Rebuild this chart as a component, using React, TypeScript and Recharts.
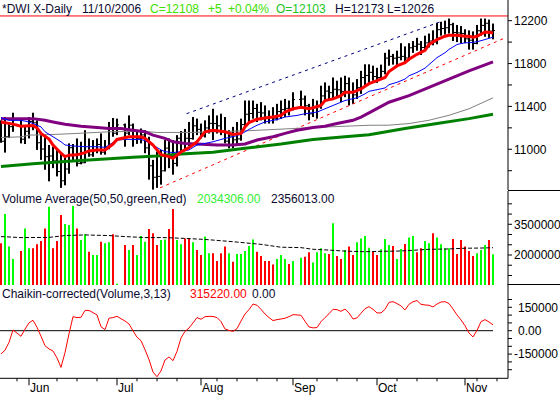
import React from "react";
import { ComposedChart, Bar, Line, XAxis, YAxis, ReferenceLine, Cell } from "recharts";

// bars sit on weekday slots; market holidays keep an empty slot
const firstDay = "2006-05-23";
const lastDay = "2006-11-10";
const axisEndDay = "2006-11-15";
const holidays = ["2006-05-29", "2006-07-04", "2006-09-04"];
const monthNames = ["Jan", "Feb", "Mar", "Apr", "May", "Jun", "Jul", "Aug", "Sep", "Oct", "Nov", "Dec"];

// one value per trading day
const opens = [
  11094, 11075, 11117, 11211,
  11275, 11094, 11168, 11260, 11247, 11061, 11002, 10931, 10938, 10891,
  10792, 10706, 10816, 11015, 10942, 10869, 10874, 10979, 10948, 10989,
  11045, 10973, 11002, 11190, 11150,
  11228, 11151, 11225, 11091, 11103, 11134, 11013, 10846, 10739,
  10747, 10799, 11011, 10928, 10868, 11103, 11157, 11103, 11100, 11219,
  11186, 11125, 11199, 11242, 11240, 11219, 11173, 11076, 11124, 11088,
  11097, 11230, 11327, 11334, 11381, 11345, 11339, 11297, 11302, 11284,
  11352, 11370, 11382, 11381,
  11464, 11469, 11406, 11331, 11392,
  11397, 11498, 11543, 11528, 11560, 11555, 11540, 11613, 11533, 11508,
  11575, 11669, 11689, 11718, 11679, 11670, 11727, 11851, 11867, 11850,
  11858, 11867, 11852, 11947, 11961, 11981, 11950, 11993, 12011, 12002,
  12116, 12127, 12134, 12163, 12090, 12086, 12081, 12031, 12018, 11987,
  12106, 12156, 12176, 12103,
];
const highs = [
  11270, 11301, 11250, 11341,
  11280, 11209, 11301, 11341, 11270, 11132, 11117, 11040, 11024, 10994,
  10963, 10932, 11055, 11049, 11101, 11070, 11178, 11101, 11086, 11101,
  11148, 11086, 11255, 11292, 11286,
  11240, 11316, 11240, 11178, 11194, 11178, 11117, 10901, 10978,
  10994, 11086, 11101, 11086, 11132, 11170, 11190, 11255, 11301, 11286,
  11240, 11270, 11316, 11378, 11316, 11332, 11301, 11178, 11209, 11255,
  11286, 11455, 11455, 11455, 11424, 11440, 11409, 11363, 11393, 11424,
  11455, 11470, 11455, 11532,
  11547, 11501, 11424, 11470, 11455,
  11593, 11624, 11593, 11670, 11640, 11670, 11686, 11670, 11624, 11655,
  11732, 11793, 11793, 11780, 11760, 11790, 11900, 11930, 11890, 11920,
  11990, 11960, 11990, 12010, 12040, 12010, 12060, 12080, 12110, 12180,
  12190, 12200, 12220, 12180, 12160, 12150, 12120, 12110, 12100, 12160,
  12220, 12220, 12210, 12173,
];
const lows = [
  11061, 10969, 11105, 11163,
  11055, 11049, 11101, 11178, 10994, 10901, 10809, 10701, 10824, 10747,
  10640, 10664, 10772, 10886, 10840, 10860, 10870, 10930, 10930, 10963,
  10950, 10950, 11000, 11117, 11132,
  11024, 11132, 11024, 11050, 11055, 10963, 10717, 10624, 10640,
  10670, 10793, 10824, 10763, 10840, 10950, 10990, 11030, 11090, 11132,
  11101, 11110, 11147, 11086, 11147, 11132, 11055, 11009, 11009, 11050,
  11080, 11209, 11240, 11286, 11255, 11270, 11240, 11240, 11240, 11270,
  11286, 11301, 11316, 11363,
  11378, 11316, 11270, 11301, 11286,
  11378, 11455, 11455, 11470, 11486, 11440, 11486, 11409, 11424, 11470,
  11517, 11593, 11609, 11640, 11620, 11650, 11700, 11780, 11790, 11780,
  11830, 11810, 11850, 11900, 11920, 11880, 11920, 11950, 11970, 11980,
  12060, 12070, 12080, 12010, 12000, 11990, 11990, 11930, 11930, 11980,
  12060, 12050, 12040, 12026,
];
const closes = [
  11075, 11117, 11211, 11278,
  11094, 11168, 11260, 11247, 11061, 11002, 10931, 10938, 10891, 10792,
  10706, 10816, 11015, 10942, 10869, 10874, 10979, 10948, 10989, 11045,
  10973, 11002, 11190, 11150, 11228,
  11151, 11225, 11091, 11103, 11134, 11013, 10846, 10739, 10747,
  10799, 11011, 10928, 10868, 11103, 11157, 11103, 11100, 11219, 11186,
  11125, 11199, 11242, 11240, 11219, 11173, 11076, 11124, 11088, 11097,
  11230, 11327, 11334, 11381, 11345, 11339, 11297, 11302, 11284, 11352,
  11370, 11382, 11381, 11464,
  11469, 11406, 11331, 11392, 11397,
  11498, 11543, 11528, 11560, 11555, 11540, 11613, 11533, 11508, 11575,
  11669, 11689, 11718, 11679, 11670, 11727, 11851, 11867, 11850, 11858,
  11867, 11852, 11947, 11961, 11981, 11950, 11993, 12011, 12002, 12116,
  12127, 12134, 12163, 12090, 12086, 12081, 12031, 12018, 11987, 12106,
  12156, 12176, 12103, 12108,
];
const volumes = [
  2570000, 4000000, 2410000, 1800000,
  2190000, 3300000, 2330000, 2330000, 2520000, 2680000, 3300000, 4360000, 2330000, 2680000,
  3950000, 3510000, 3470000, 4390000, 3300000, 2730000, 3010000, 2160000, 2000000, 2000000,
  2650000, 2570000, 2620000, 3010000, 600000,
  2490000, 2240000, 2490000, 2000000, 2930000, 2650000, 3270000, 3060000, 2490000,
  2730000, 2760000, 3270000, 4250000, 2730000, 2520000, 2810000, 2810000, 2620000, 2240000,
  2000000, 2900000, 2080000, 2080000, 1710000, 2080000, 2410000, 2080000, 1670000, 2050000,
  2050000, 2190000, 2440000, 2760000, 2160000, 1950000, 1710000, 1710000, 1540000, 1800000,
  2000000, 1800000, 1560000, 1710000,
  1870000, 1920000, 2130000, 1630000, 2130000,
  2330000, 2080000, 2050000, 3550000, 1950000, 1800000, 2240000, 2410000, 2000000, 2620000,
  2810000, 2930000, 2360000, 2160000, 2000000, 2280000, 2780000, 2490000, 2440000, 1800000,
  2290000, 2540000, 2860000, 2930000, 2130000, 2330000, 2680000, 2570000, 3060000, 2860000,
  2520000, 2330000, 2330000, 2780000, 2050000, 2730000, 2410000, 2190000, 1950000, 2080000,
  2240000, 2490000, 2730000, 2034306,
];
// 1 = green volume bar, 0 = red
const volumeUp = [
  0, 1, 1, 1,
  0, 1, 1, 0, 0, 0, 0, 1, 0, 0,
  0, 1, 1, 1, 0, 1, 1, 0, 1, 1,
  0, 1, 1, 0, 1,
  0, 1, 0, 1, 1, 1, 0, 0, 0,
  1, 1, 0, 0, 1, 1, 0, 0, 1, 0,
  0, 1, 1, 0, 0, 0, 0, 1, 0, 1,
  1, 1, 1, 1, 0, 0, 0, 0, 0, 1,
  1, 1, 0, 1,
  1, 0, 0, 1, 1,
  1, 1, 0, 1, 0, 0, 1, 0, 0, 1,
  1, 1, 1, 0, 0, 1, 1, 1, 0, 1,
  1, 0, 1, 1, 0, 0, 1, 1, 0, 1,
  1, 1, 1, 0, 0, 0, 0, 0, 0, 1,
  1, 1, 0, 1,
];
const chaikin = [
  -149000, -125000, -75000, 5000,
  -36000, 10000, 50000, 67000, 22000, -36000, -96000, -117000, -130000, -175000,
  -235000, -140000, -20000, 90000, 84000, 86000, 130000, 130000, 116000, 101000,
  25000, 7000, 80000, 84000, 92000,
  62000, 43000, 0, -42000, -64000, -122000, -185000, -265000, -295000,
  -258000, -188000, -168000, -192000, -132000, -47000, -4000, 17000, 50000, 84000,
  73000, 90000, 92000, 91000, 84000, 58000, 11000, 2000, -4000, 13000,
  62000, 107000, 135000, 171000, 163000, 137000, 107000, 84000, 65000, 71000,
  75000, 80000, 90000, 103000,
  99000, 60000, 24000, 18000, 20000,
  58000, 84000, 109000, 137000, 135000, 124000, 139000, 114000, 75000, 82000,
  112000, 141000, 154000, 137000, 114000, 114000, 137000, 182000, 186000, 174000,
  159000, 133000, 169000, 186000, 193000, 169000, 165000, 163000, 152000, 171000,
  184000, 186000, 174000, 139000, 101000, 69000, 32000, -15000, -40000, 2000,
  58000, 71000, 56000, 37000,
];

// moving averages as [weekday slot, value]
const ma10 = [
  [0, 11255], [3, 11235], [5, 11215], [8, 11222], [9, 11200], [10, 11148], [12, 11095], [13, 11040],
  [15, 10963], [16, 10932], [17, 10945], [19, 10948], [21, 10969], [22, 10985], [24, 10994], [26, 10994],
  [28, 11049], [29, 11092], [32, 11117], [35, 11117], [36, 11102], [38, 11040], [40, 10950], [42, 10932],
  [43, 10917], [45, 10975], [47, 11015], [49, 11070], [51, 11163], [53, 11178], [55, 11168], [56, 11163],
  [58, 11138], [60, 11148], [61, 11209], [62, 11250], [64, 11280], [66, 11292], [68, 11301], [70, 11316],
  [71, 11347], [73, 11378], [75, 11393], [77, 11378], [78, 11387], [80, 11409], [81, 11455], [83, 11470],
  [85, 11501], [86, 11532], [88, 11532], [90, 11563], [92, 11612], [94, 11640], [96, 11670], [97, 11726],
  [99, 11778], [101, 11809], [102, 11840], [104, 11886], [106, 11923], [107, 11978], [109, 12024],
  [111, 12055], [112, 12064], [114, 12064], [116, 12055], [117, 12055], [118, 12045], [119, 12055],
  [121, 12095], [122, 12092], [123, 12086],
];
const ma20 = [
  [0, 11295], [2, 11270], [5, 11270], [7, 11255], [8, 11240], [10, 11209], [11, 11163], [13, 11117],
  [15, 11070], [16, 11040], [18, 11031], [21, 11024], [24, 11024], [26, 11018], [27, 11040], [29, 11086],
  [31, 11092], [35, 11092], [36, 11080], [38, 11040], [40, 10994], [41, 10978], [43, 10969], [45, 10978],
  [47, 10994], [49, 11040], [53, 11070], [56, 11102], [58, 11117], [60, 11140], [62, 11185], [64, 11224],
  [66, 11255], [69, 11277], [71, 11301], [74, 11316], [76, 11332], [79, 11347], [81, 11378], [84, 11424],
  [86, 11455], [89, 11480], [91, 11517], [92, 11541], [94, 11556], [96, 11572], [97, 11603], [99, 11625],
  [101, 11655], [102, 11686], [104, 11717], [106, 11757], [107, 11790], [109, 11855], [111, 11901],
  [112, 11932], [114, 11978], [116, 11994], [117, 11994], [119, 12003], [121, 12024], [123, 12046],
];
const ma50 = [
  [0, 11286], [8, 11286], [11, 11270], [13, 11255], [16, 11233], [20, 11215], [24, 11203], [27, 11194],
  [30, 11194], [33, 11178], [36, 11163], [38, 11132], [41, 11102], [43, 11070], [46, 11055], [49, 11049],
  [54, 11040], [58, 11040], [61, 11049], [64, 11086], [68, 11117], [71, 11148], [74, 11178], [78, 11203],
  [81, 11215], [84, 11240], [88, 11270], [90, 11301], [92, 11340], [97, 11439], [102, 11501],
  [107, 11578], [112, 11655], [117, 11732], [123, 11815],
];
const ma100 = [
  [0, 11110], [5, 11116], [7, 11132], [13, 11138], [19, 11148], [27, 11163], [35, 11169], [39, 11157],
  [47, 11157], [53, 11163], [61, 11172], [70, 11188], [78, 11203], [86, 11215], [92, 11224], [97, 11225],
  [102, 11240], [107, 11271], [112, 11317], [117, 11378], [123, 11480],
];
const ma200 = [
  [0, 10840], [8, 10864], [16, 10886], [25, 10907], [33, 10926], [39, 10938], [45, 10957], [53, 10972],
  [61, 11009], [70, 11049], [78, 11092], [86, 11117], [92, 11135], [101, 11194], [109, 11240],
  [117, 11286], [123, 11326],
];
const volumeAverage = [
  [0, 2900000], [5, 2850000], [12, 2860000], [16, 2950000], [21, 2980000], [27, 2950000], [31, 2900000],
  [36, 2850000], [41, 2850000], [46, 2810000], [51, 2760000], [58, 2650000], [65, 2520000], [70, 2380000],
  [75, 2360000], [78, 2280000], [82, 2240000], [86, 2190000], [91, 2160000], [95, 2180000], [99, 2190000],
  [103, 2230000], [107, 2280000], [111, 2290000], [116, 2330000], [120, 2340000], [123, 2356013],
];

// hand-drawn channel lines, [slot, price]
const upperChannel = [[46.4, 11332], [110.6, 12200]];
const lowerChannel = [[39.75, 10640], [126.4, 12046]];

const priceTicks = [10800, 11000, 11200, 11400, 11600, 11800, 12000, 12200];
const priceLabels = [11000, 11400, 11800, 12200];
const volumeTicks = [1000000, 1500000, 2000000, 2500000, 3000000, 3500000, 4000000, 4500000];
const volumeLabels = [2000000, 3500000];
const chaikinTicks = [-250000, -200000, -150000, -100000, -50000, 0, 50000, 100000, 150000, 200000];
const chaikinLabels = [-150000, 0, 150000];

const FONT = "'Liberation Sans', Arial, Helvetica, sans-serif";
const INK = "#000";
const W = 560;
const AXIS_W = 52;

const DAY = 86400000;
const toTime = (s: string) => Date.parse(s + "T00:00:00Z");
const isoOf = (t: number) => new Date(t).toISOString().slice(0, 10);

const slotTimes: number[] = [];
for (let t = toTime(firstDay); t <= toTime(axisEndDay); t += DAY) {
  const wd = new Date(t).getUTCDay();
  if (wd !== 0 && wd !== 6) slotTimes.push(t);
}
const tradingSlots = slotTimes
  .map((t, slot) => ({ t, slot }))
  .filter((d) => d.t <= toTime(lastDay) && !holidays.includes(isoOf(d.t)))
  .map((d) => d.slot);
const lastSlot = tradingSlots[tradingSlots.length - 1];
const xDomain = [-0.25, slotTimes.length - 0.25];

const rows = tradingSlots.map((slot, i) => ({
  slot,
  o: opens[i],
  h: highs[i],
  l: lows[i],
  c: closes[i],
  range: [lows[i], highs[i]],
  vol: volumes[i],
  up: volumeUp[i] === 1,
  cmf: chaikin[i],
}));

const toPoints = (pairs: number[][]) => pairs.map(([slot, v]) => ({ slot, v }));

const monthTicks: number[] = [];
slotTimes.forEach((t, s) => {
  if (s > 0 && new Date(t).getUTCMonth() !== new Date(slotTimes[s - 1]).getUTCMonth()) monthTicks.push(s);
});
const weekTicks = slotTimes
  .map((t, s) => ({ t, s }))
  .filter((d) => new Date(d.t).getUTCDay() === 1 && monthTicks.every((m) => Math.abs(m - d.s) > 2))
  .map((d) => d.s);
const xTicks = [...monthTicks, ...weekTicks].sort((a, b) => a - b);

function OhlcBar(props: any) {
  const { x, y, width, height, payload } = props;
  if (!payload || x == null || y == null) return null;
  const top = Math.min(y, y + height);
  const h = Math.max(Math.abs(height), 1);
  const cx = x + width / 2;
  const span = payload.h - payload.l || 1;
  const at = (v: number) => top + ((payload.h - v) / span) * h;
  return (
    <g>
      <rect x={cx - 1} y={top} width={2} height={h} fill={INK} />
      <rect x={cx - 2} y={at(payload.o) - 0.5} width={1} height={1} fill={INK} />
      <rect x={cx + 1} y={at(payload.c) - 0.5} width={1} height={1} fill={INK} />
    </g>
  );
}

function valueTick(labels: number[], format: (v: number) => string, shiftPositive = 0) {
  return (props: any) => {
    const { x, y, payload } = props;
    const v = payload.value;
    if (!labels.includes(v)) return <g />;
    return (
      <text x={x + (v >= 0 ? shiftPositive : 0)} y={y} dy="0.36em" fontSize={12} fontFamily={FONT} fill={INK}>
        {format(v)}
      </text>
    );
  };
}

function DateTick(props: any) {
  const { x, y, payload } = props;
  const s = payload.value;
  const isMonth = monthTicks.includes(s);
  return (
    <g>
      <line x1={x} x2={x} y1={y} y2={y + (isMonth ? 7 : 3)} stroke={INK} />
      {isMonth && (
        <text x={x + 1} y={y + 13.5} fontSize={12} fontFamily={FONT} fill={INK}>
          {monthNames[new Date(slotTimes[s]).getUTCMonth()]}
        </text>
      )}
    </g>
  );
}

const yAxisProps = {
  orientation: "right" as const,
  width: AXIS_W,
  type: "number" as const,
  allowDataOverflow: true,
  interval: 0,
  tickSize: 4,
  tickMargin: 2,
  axisLine: { stroke: INK },
  tickLine: { stroke: INK },
};

const maLines = [
  { key: "ma200", points: ma200, color: "#008000", width: 3 },
  { key: "ma100", points: ma100, color: "#808080", width: 1 },
  { key: "ma50", points: ma50, color: "#800080", width: 3 },
  { key: "ma20", points: ma20, color: "#0000ff", width: 1 },
  { key: "ma10", points: ma10, color: "#ff0000", width: 3 },
];

const seg = (pairs: number[][]) => pairs.map(([x, y]) => ({ x, y }));

export default function App() {
  const margin = { top: 0, right: 0, bottom: 0, left: 0 };
  return (
    <div style={{ position: "absolute", left: 0, top: 0, width: W, height: 397, background: "#fff", overflow: "hidden" }}>
      <div style={{ position: "absolute", left: 0, top: 0 }}>
        <ComposedChart width={W} height={190} data={rows} margin={margin}>
          <XAxis type="number" dataKey="slot" domain={xDomain} allowDataOverflow hide />
          <YAxis {...yAxisProps} domain={[10620, 12393]} ticks={priceTicks} tick={valueTick(priceLabels, String)} />
          <ReferenceLine y={12244} stroke="#ff0000" ifOverflow="visible" />
          <ReferenceLine segment={seg(upperChannel)} stroke="#000080" strokeDasharray="3 4" ifOverflow="visible" />
          <ReferenceLine segment={seg(lowerChannel)} stroke="#ff0000" strokeDasharray="3 4" ifOverflow="visible" />
          <Bar dataKey="range" barSize={2} shape={(p: any) => <OhlcBar {...p} />} isAnimationActive={false} />
          {maLines.map((m) => (
            <Line
              key={m.key}
              data={toPoints(m.points)}
              dataKey="v"
              type="linear"
              stroke={m.color}
              strokeWidth={m.width}
              dot={false}
              activeDot={false}
              isAnimationActive={false}
            />
          ))}
        </ComposedChart>
      </div>

      <div style={{ position: "absolute", left: 0, top: 191 }}>
        <ComposedChart width={W} height={94} data={rows} margin={margin}>
          <XAxis type="number" dataKey="slot" domain={xDomain} allowDataOverflow hide />
          <YAxis {...yAxisProps} domain={[534400, 5126600]} ticks={volumeTicks} tick={valueTick(volumeLabels, String)} />
          <Bar dataKey="vol" barSize={2} isAnimationActive={false}>
            {rows.map((r) => (
              <Cell key={r.slot} fill={r.up ? "#00ff00" : "#ff0000"} />
            ))}
          </Bar>
          <Line
            data={toPoints(volumeAverage)}
            dataKey="v"
            type="linear"
            stroke={INK}
            strokeWidth={1}
            strokeDasharray="4 2"
            dot={false}
            activeDot={false}
            isAnimationActive={false}
          />
        </ComposedChart>
      </div>

      <div style={{ position: "absolute", left: 0, top: 284 }}>
        <ComposedChart width={W} height={113} data={rows} margin={margin}>
          <XAxis
            type="number"
            dataKey="slot"
            domain={xDomain}
            allowDataOverflow
            ticks={xTicks}
            interval={0}
            height={18.7}
            tickSize={0}
            tickMargin={0}
            tickLine={false}
            axisLine={{ stroke: INK }}
            tick={(p: any) => <DateTick {...p} />}
          />
          <YAxis
            {...yAxisProps}
            domain={[-305100, 299300]}
            ticks={chaikinTicks}
            tick={valueTick(chaikinLabels, (v) => (v === 0 ? "0.00" : String(v)), 4)}
          />
          <ReferenceLine segment={[{ x: -0.25, y: 0 }, { x: lastSlot, y: 0 }]} stroke={INK} ifOverflow="visible" />
          <Line dataKey="cmf" type="linear" stroke="#ff0000" strokeWidth={1} dot={false} activeDot={false} isAnimationActive={false} />
        </ComposedChart>
      </div>

      <svg width={W} height={397} style={{ position: "absolute", left: 0, top: 0, pointerEvents: "none" }} fontFamily={FONT} fontSize={12}>
        <line x1={508} x2={560} y1={190.5} y2={190.5} stroke={INK} />
        <line x1={508} x2={560} y1={284.5} y2={284.5} stroke={INK} />
        <text x={2} y={13} fill="#0a0a30">*DWI X-Daily</text>
        <text x={82} y={13} fill="#0a0a30">11/10/2006</text>
        <text x={150} y={13} fill="#3ee000">C=12108</text>
        <text x={208} y={13} fill="#3ee000">+5</text>
        <text x={228} y={13} fill="#3ee000">+0.04%</text>
        <text x={276} y={13} fill="#22c422">O=12103</text>
        <text x={335} y={13} fill="#0a0a30">H=12173</text>
        <text x={387} y={13} fill="#0a0a30">L=12026</text>
        <text x={2} y={203} fill="#0a0a30">Volume Average(50,50,green,Red)</text>
        <text x={197} y={203} fill="#33ee33">2034306.00</text>
        <text x={271} y={203} fill="#0a0a30">2356013.00</text>
        <text x={2} y={298} fill="#0a0a30">Chaikin-corrected(Volume,3,13)</text>
        <text x={190} y={298} fill="#ff0000">315220.00</text>
        <text x={252} y={298} fill="#0a0a30">0.00</text>
      </svg>
    </div>
  );
}
